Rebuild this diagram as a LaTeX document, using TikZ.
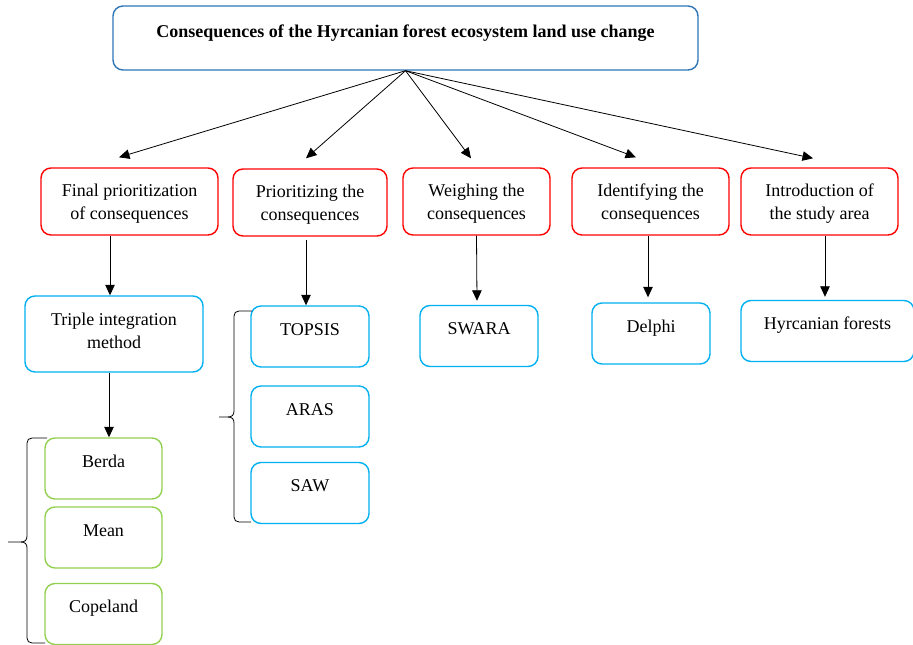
\documentclass[tikz,border=0pt]{standalone}
\usepackage{fontspec}
\setmainfont{Liberation Serif}
\usetikzlibrary{arrows.meta}
\definecolor{ttlblue}{RGB}{46,117,182}
\definecolor{stgred}{RGB}{255,0,0}
\definecolor{mthblue}{RGB}{0,176,240}
\definecolor{rnkgreen}{RGB}{146,208,80}
\tikzset{
	box/.style={rounded corners=10pt,line width=1.4pt,inner sep=0pt,align=center,font=\fontsize{18}{23}\selectfont},
	ttl/.style={box,draw=ttlblue,font=\fontsize{18}{23}\selectfont\bfseries},
	stg/.style={box,draw=stgred,minimum height=67pt,text height=51pt,text depth=16pt},
	mth/.style={box,draw=mthblue,minimum width=118pt,minimum height=61pt,text height=29pt,text depth=32pt},
	rnk/.style={box,draw=rnkgreen,minimum width=117pt,minimum height=61pt,text height=29pt,text depth=32pt},
	arr/.style={-{Triangle[length=10.5pt,width=9.5pt]},line width=0.8pt}
}
\begin{document}
\begin{tikzpicture}[x=1pt,y=-1pt]
		\useasboundingbox (0,0) rectangle (913,645);
		
		\node[ttl,minimum width=585pt,minimum height=64pt,text height=31pt,text depth=33pt] (top) at (405.5,38) {Consequences of the Hyrcanian forest ecosystem land use change};
		
		% stages
		\node[stg,minimum width=177pt] (final) at (129.5,201.5) {Final prioritization\\of consequences};
		\node[stg,minimum width=154pt] (prio) at (310,202.5) {Prioritizing the\\consequences};
		\node[stg,minimum width=147pt] (weigh) at (476.5,201.5) {Weighing the\\consequences};
		\node[stg,minimum width=157pt] (ident) at (650.5,201.5) {Identifying the\\consequences};
		\node[stg,minimum width=157pt] (intro) at (819.5,201.5) {Introduction of\\the study area};
		
		% methods
		\node[mth,minimum width=178pt,minimum height=76pt,text height=52pt,text depth=24pt] (triple) at (114,334) {Triple integration\\method};
		\node[mth] (topsis) at (310,336.5) {TOPSIS};
		\node[mth] (aras) at (310,416.5) {ARAS};
		\node[mth] (saw) at (310,493) {SAW};
		\node[mth] (swara) at (479,336) {SWARA};
		\node[mth] (delphi) at (651,333.5) {Delphi};
		\node[mth,minimum width=173pt] (hyrc) at (827.5,331) {Hyrcanian forests};
		
		\node[rnk] (berda) at (103.5,468.5) {Berda};
		\node[rnk] (mean) at (103.5,537.5) {Mean};
		\node[rnk] (copeland) at (103.5,614) {Copeland};
		
		% arrows from the title
		\coordinate (finalin) at ([xshift=-10.5pt,yshift=10pt]final.north);
		\coordinate (prioin) at ([xshift=-4pt,yshift=10pt]prio.north);
		\coordinate (weighin) at ([xshift=-5.5pt,yshift=9pt]weigh.north);
		\coordinate (identin) at ([xshift=-14.5pt,yshift=10pt]ident.north);
		\coordinate (introin) at ([xshift=-6.5pt,yshift=9pt]intro.north);
		\foreach \t in {finalin,prioin,weighin,identin,introin}
			\draw[arr] (top.south) -- (\t);
		
		\draw[arr] ([xshift=-19.5pt]final.south) -- ([xshift=-4pt]triple.north);
		\draw[arr] ([xshift=-5pt]triple.south) -- ([xshift=5.5pt]berda.north);
		\draw[arr] ([xshift=-4pt,yshift=-3pt]prio.south) -- ([xshift=-4pt]topsis.north);
		\draw[arr] (weigh.south) -- ([xshift=-2pt,yshift=4pt]swara.north);
		\draw[arr] ([xshift=-2.5pt]ident.south) -- ([xshift=-3pt,yshift=5pt]delphi.north);
		\draw[arr] ([xshift=5.5pt]intro.south) -- ([xshift=-2.5pt,yshift=3pt]hyrc.north);
		
		% braces
		\draw[line width=0.8pt] (47,438) -- (32,438) .. controls (29,438) and (27,440) .. (27,443) -- (27,536) .. controls (27,540) and (25,542) .. (21,542) -- (8,542);
		\draw[line width=0.8pt] (21,542) .. controls (25,542) and (27,544) .. (27,548) -- (27,638) .. controls (27,641) and (29,643) .. (32,643) -- (45,643);
		\draw[line width=0.8pt] (252,311) -- (239,311) .. controls (236,311) and (234,313) .. (234,316) -- (234,411) .. controls (234,415) and (232,417) .. (228,417) -- (219,417);
		\draw[line width=0.8pt] (228,417) .. controls (232,417) and (234,419) .. (234,423) -- (234,517) .. controls (234,520) and (236,522) .. (239,522) -- (251,522);
		
\end{tikzpicture}
\end{document}
